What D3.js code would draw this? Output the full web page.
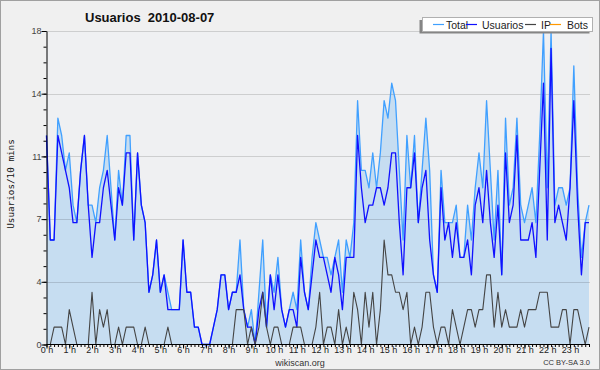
<!DOCTYPE html>
<html>
<head>
<meta charset="utf-8">
<title>Usuarios 2010-08-07</title>
<script src="https://cdn.jsdelivr.net/npm/d3@7"></script>
<style>
  body { margin: 0; background: #f0f0f0; }
  svg { display: block; font-family: "Liberation Sans", Arial, sans-serif; }
</style>
</head>
<body>
<div id="chart"></div>
<script>
// 10-minute samples, 144 per day
var total = [
  12,6,6,13,12,10,11,8,7,10, 12,8,8,7,9,10,12,9,6,10,
  8,12,12,6,11,8,7,3,4,6, 3,4,3,2,2,2,6,3,3,1,
  1,0,0,0,1,2,4,4,2,3, 3,6,2,1,2,0,3,6,1,4,
  3,5,2,1,2,3,2,6,3,2, 5,7,6,5,5,4,5,6,3,6,
  5,7,14,10,10,9,11,9,11,14, 13,15,14,10,6,12,9,12,7,10,
  13,10,4,3,10,7,7,7,8,5, 5,8,6,9,11,9,14,10,6,10,
  4,13,8,9,13,8,7,8,9,7, 12,18,9,18,8,9,9,8,9,16,
  9,5,7,8
];
var usuarios = [
  12,6,6,12,11,10,9,7,7,10, 12,8,5,7,7,9,10,8,6,9,
  8,11,11,6,11,8,7,3,4,6, 3,4,2,2,2,2,6,3,3,1,
  1,0,0,0,1,2,4,4,2,3, 3,4,2,1,1,0,2,3,1,4,
  2,4,2,1,2,2,1,5,3,2, 4,6,5,5,4,3,5,4,2,5,
  5,5,12,9,7,8,8,9,9,8, 9,11,11,7,4,9,9,11,7,9,
  10,6,4,3,9,6,7,5,7,5, 5,6,4,8,9,7,10,7,5,8,
  4,11,7,8,12,6,6,6,7,5, 10,15,6,17,7,8,7,6,9,14,
  8,4,7,7
];
var ip = [
  0,0,1,1,1,0,2,1,0,0, 0,0,3,0,2,1,2,0,0,1,
  0,1,1,1,0,0,1,0,0,0, 0,0,1,0,0,0,0,0,0,0,
  0,0,0,0,0,0,0,0,0,0, 2,2,2,0,1,0,1,3,1,0,
  1,1,0,0,0,1,1,1,0,0, 0,1,3,0,1,1,0,2,0,1,
  0,3,2,0,3,1,3,0,2,6, 4,4,3,3,2,3,0,1,0,1,
  3,3,1,0,1,1,0,2,1,0, 1,2,2,1,2,2,4,4,1,3,
  1,2,1,1,1,2,1,2,2,2, 3,3,3,1,1,1,2,2,0,2,
  2,1,0,1
];
var bots = d3.range(144).map(function() { return 0; });

var yTicks = [0, 3.6, 7.2, 10.8, 14.4, 18];
var yTickLabels = ["0", "4", "7", "11", "14", "18"];
var hourLabels = ["0 h","1 h","2 h","3 h","4 h","5 h","6 h","7 h","8 h","9 h","10 h","11 h",
  "12 h","13 h","14 h","15 h","16 h","17 h","18 h","19 h","20 h","21 h","22 h","23 h"];
var seriesNames = ["Total", "Usuarios", "IP", "Bots"];
var seriesColors = ["#40a0ff", "#1010ff", "#444444", "#ff9900"];

var width = 600, height = 370;
var plotLeft = 46.5, plotRight = 589, plotTop = 31, plotBottom = 344.5;

var svg = d3.select("#chart").append("svg")
    .attr("width", width)
    .attr("height", height);

svg.append("rect")
    .attr("x", 0.5).attr("y", 0.5)
    .attr("width", width - 1).attr("height", height - 1)
    .attr("fill", "#f0f0f0").attr("stroke", "#a0a0a0");

var x = d3.scaleLinear().domain([0, 143]).range([plotLeft, plotRight]);
var y = d3.scaleLinear().domain([0, 18]).range([plotBottom, plotTop]);

svg.append("rect")
    .attr("x", plotLeft).attr("y", plotTop)
    .attr("width", plotRight - plotLeft).attr("height", plotBottom - plotTop)
    .attr("fill", "#eff0f2");

// filled area under total
svg.append("path")
    .datum(total)
    .attr("fill", "#c6ddf1")
    .attr("d", d3.area()
      .x(function(d, i) { return x(i); })
      .y0(y(0))
      .y1(function(d) { return y(d); }));

// grid
svg.append("g")
  .selectAll("line")
  .data(yTicks.slice(1))
  .enter().append("line")
    .attr("x1", plotLeft).attr("x2", 590)
    .attr("y1", function(d) { return Math.round(y(d)) + 0.5; })
    .attr("y2", function(d) { return Math.round(y(d)) + 0.5; })
    .attr("stroke", "#000")
    .attr("stroke-opacity", 0.14);

var line = d3.line()
    .x(function(d, i) { return x(i); })
    .y(function(d) { return y(d); });

[total, usuarios, ip, bots].forEach(function(s, k) {
  svg.append("path")
      .datum(s)
      .attr("fill", "none")
      .attr("stroke", seriesColors[k])
      .attr("stroke-width", k < 2 ? 1.3 : 1.1)
      .attr("stroke-linejoin", "round")
      .attr("d", line);
});

// axes
var yMinor = svg.append("g")
    .attr("transform", "translate(" + plotLeft + ",0)")
    .call(d3.axisLeft(y).tickValues(d3.range(0, 18.01, 0.9)).tickSize(3).tickSizeOuter(0).tickFormat(""));
yMinor.select(".domain").remove();

var yAxis = svg.append("g")
    .attr("transform", "translate(" + plotLeft + ",0)")
    .call(d3.axisLeft(y).tickValues(yTicks)
      .tickFormat(function(d, i) { return yTickLabels[i]; })
      .tickSize(5).tickSizeOuter(0).tickPadding(0));
yAxis.selectAll("text").attr("font-size", 9).attr("fill", "#444")
    .attr("font-family", "'Liberation Sans', Arial, sans-serif");

var xMinor = svg.append("g")
    .attr("transform", "translate(0," + plotBottom + ")")
    .call(d3.axisBottom(x).tickValues(d3.range(144)).tickSize(2.5).tickSizeOuter(0).tickFormat(""));
xMinor.select(".domain").remove();

var xAxis = svg.append("g")
    .attr("transform", "translate(0," + plotBottom + ")")
    .call(d3.axisBottom(x).tickValues(d3.range(0, 144, 6))
      .tickFormat(function(d, i) { return hourLabels[i]; })
      .tickSize(4).tickSizeOuter(0));
xAxis.select(".domain").attr("d", "M" + plotLeft + ",0H590");
xAxis.selectAll("text").attr("font-size", 9).attr("fill", "#222")
    .attr("y", 2.5)
    .attr("font-family", "'Liberation Sans', Arial, sans-serif");

// title
svg.append("text")
    .attr("x", 85).attr("y", 21.5)
    .attr("font-size", 13).attr("font-weight", "bold")
    .attr("fill", "#111")
    .style("white-space", "pre")
    .text("Usuarios  2010-08-07");

svg.append("text")
    .attr("transform", "translate(13.5,184) rotate(-90)")
    .attr("text-anchor", "middle")
    .attr("font-family", "'DejaVu Sans Mono', monospace")
    .attr("font-size", 9.3)
    .attr("fill", "#111")
    .text("Usuarios/10 mins");

// legend
var legend = svg.append("g");
legend.append("rect")
    .attr("x", 419.5).attr("y", 20).attr("width", 170).attr("height", 13.5)
    .attr("fill", "#858585");
legend.append("rect")
    .attr("x", 422.5).attr("y", 17.5).attr("width", 170).attr("height", 14)
    .attr("fill", "#fff").attr("stroke", "#b0b0b0");

var lineStarts = [433, 466, 525, 550];
var textStarts = [446, 482, 541, 567];
seriesNames.forEach(function(name, k) {
  legend.append("line")
      .attr("x1", lineStarts[k]).attr("x2", lineStarts[k] + 11)
      .attr("y1", 24.5).attr("y2", 24.5)
      .attr("stroke", seriesColors[k]).attr("stroke-width", 1.2);
  legend.append("text")
      .attr("x", textStarts[k]).attr("y", 28.5)
      .attr("font-size", 10.5).attr("fill", "#222")
      .text(name);
});

// footer
svg.append("text")
    .attr("x", 300).attr("y", 365.5)
    .attr("text-anchor", "middle")
    .attr("font-size", 9).attr("fill", "#333")
    .text("wikiscan.org");

svg.append("text")
    .attr("x", 590).attr("y", 365)
    .attr("text-anchor", "end")
    .attr("font-size", 7.5).attr("fill", "#333")
    .text("CC BY-SA 3.0");
</script>
</body>
</html>
